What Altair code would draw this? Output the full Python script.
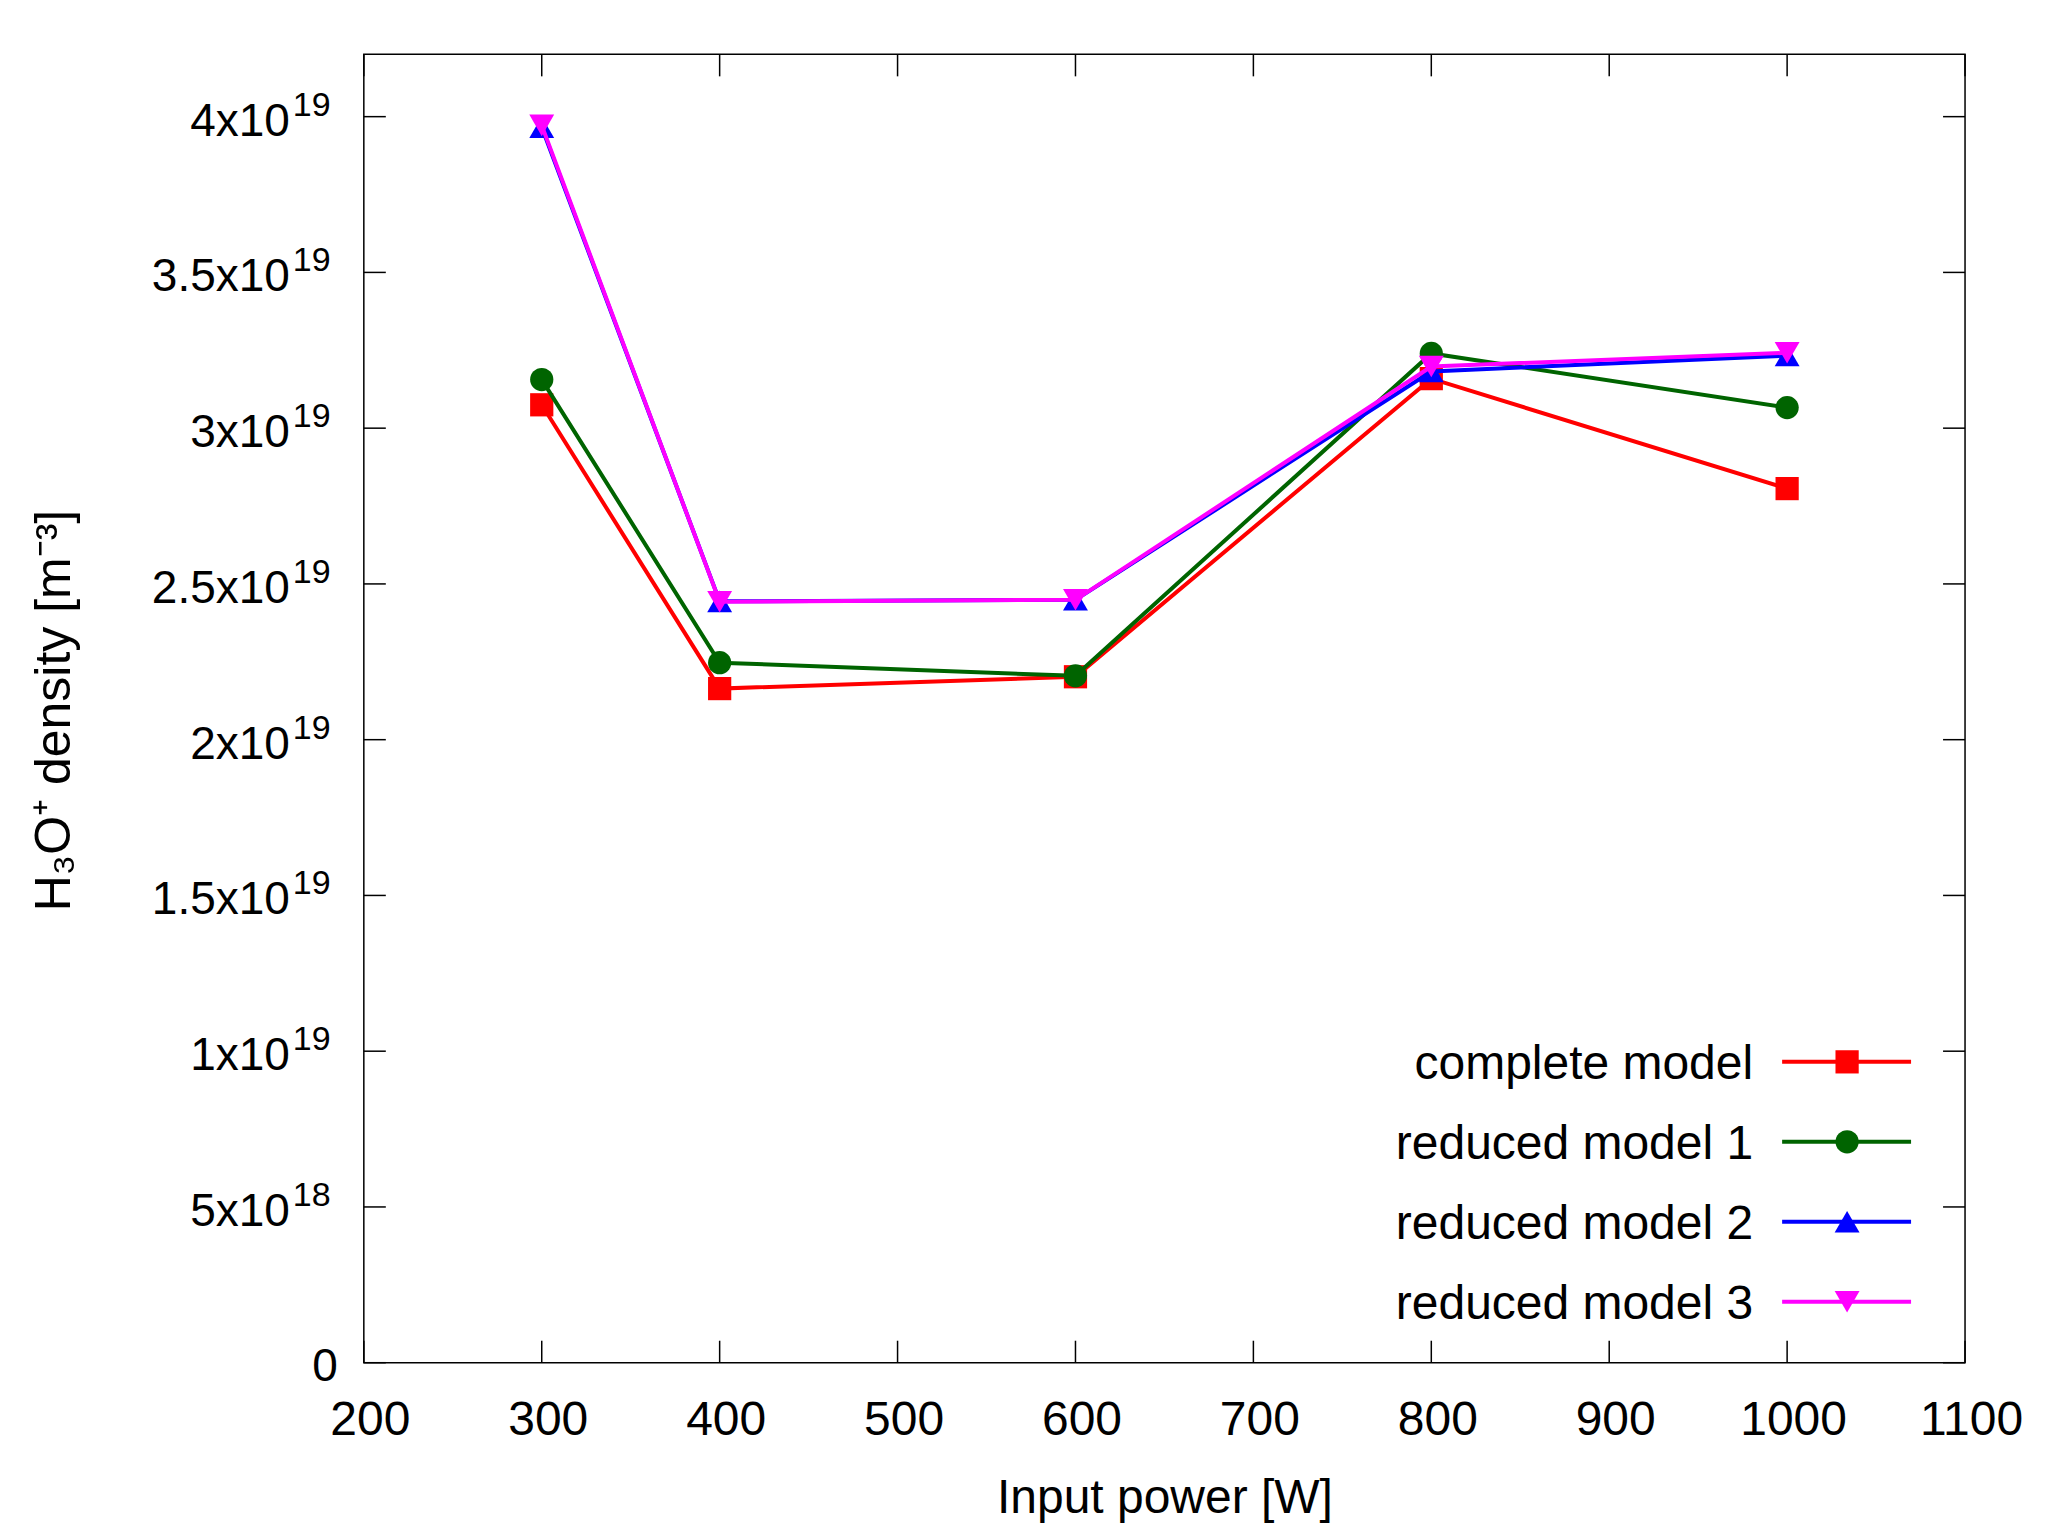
import altair as alt
import pandas as pd

# ---- data ----
power = [300, 400, 600, 800, 1000]
complete_model = [3.075e19, 2.164e19, 2.202e19, 3.159e19, 2.806e19]
reduced_model_1 = [3.156e19, 2.247e19, 2.205e19, 3.240e19, 3.066e19]
reduced_model_2 = [3.966e19, 2.444e19, 2.449e19, 3.182e19, 3.233e19]
reduced_model_3 = [3.972e19, 2.443e19, 2.449e19, 3.198e19, 3.242e19]

series_names = ["complete model", "reduced model 1", "reduced model 2", "reduced model 3"]
series_values = [complete_model, reduced_model_1, reduced_model_2, reduced_model_3]
series_colors = ["#ff0000", "#006400", "#0000ff", "#ff00ff"]
series_shapes = ["square", "circle", "triangle-up", "triangle-down"]

x_ticks = [200, 300, 400, 500, 600, 700, 800, 900, 1000, 1100]
y_ticks = [0, 5e18, 1e19, 1.5e19, 2e19, 2.5e19, 3e19, 3.5e19, 4e19]
y_mantissa = ["0", "5x10", "1x10", "1.5x10", "2x10", "2.5x10", "3x10", "3.5x10", "4x10"]
y_exponent = ["", "18", "19", "19", "19", "19", "19", "19", "19"]

x_title = "Input power [W]"
y_title = "H\u2083O\u207a density [m\u207b\u00b3]"

# ---- layout ----
W, H = 1602, 1309
FONT = "Liberation Sans"

rows = []
for name, vals in zip(series_names, series_values):
    for p, v in zip(power, vals):
        rows.append({"series": name, "power": p, "density": v})
df = pd.DataFrame(rows)

ytick_df = pd.DataFrame({"value": y_ticks, "mantissa": y_mantissa, "exponent": y_exponent})
xtick_df = pd.DataFrame({"tick": x_ticks})

x_scale = alt.Scale(domain=[200, 1100], nice=False, zero=False)
y_scale = alt.Scale(domain=[0, 4.2e19], nice=False, zero=False)

x_axis = alt.Axis(
    values=x_ticks, format="d", labelFontSize=48, labelFont=FONT, labelColor="black",
    labelPadding=34, labelOffset=6, labelFlush=False, labelOverlap=False,
    ticks=False, tickSize=0, domain=False, grid=False,
    title=x_title, titleFont=FONT, titleFontSize=48, titleFontWeight="normal",
    titleColor="black", titleX=W / 2, titleY=150, titleAlign="center",
    titleBaseline="alphabetic",
)
y_axis = alt.Axis(
    labels=False, ticks=False, tickSize=0, domain=False, grid=False,
    title=y_title, titleFont=FONT, titleFontSize=50, titleFontWeight="normal",
    titleColor="black", titleX=-294, titleY=656, titleAngle=270,
    titleAlign="center", titleBaseline="alphabetic",
)

def X(field):
    return alt.X(field, type="quantitative", scale=x_scale, axis=x_axis)

def Y(field):
    return alt.Y(field, type="quantitative", scale=y_scale, axis=y_axis)

layers = []

# data lines and points
for name, color, shape in zip(series_names, series_colors, series_shapes):
    base = alt.Chart(df).transform_filter(alt.datum.series == name)
    layers.append(base.mark_line(color=color, strokeWidth=4).encode(x=X("power"), y=Y("density")))
    size = 620 if shape.startswith("triangle") else 540
    layers.append(
        base.mark_point(shape=shape, filled=True, size=size, color=color, opacity=1)
        .encode(x=X("power"), y=Y("density"))
    )

# inward ticks on all four sides
yt = alt.Chart(ytick_df)
xt = alt.Chart(xtick_df)
layers.append(yt.mark_rule(color="black", strokeWidth=1.5).encode(y=Y("value"), x=alt.value(0), x2=alt.value(22)))
layers.append(yt.mark_rule(color="black", strokeWidth=1.5).encode(y=Y("value"), x=alt.value(W - 22), x2=alt.value(W)))
layers.append(xt.mark_rule(color="black", strokeWidth=1.5).encode(x=X("tick"), y=alt.value(H - 22), y2=alt.value(H)))
layers.append(xt.mark_rule(color="black", strokeWidth=1.5).encode(x=X("tick"), y=alt.value(0), y2=alt.value(22)))

# y tick labels with superscript exponents
layers.append(
    yt.transform_filter("datum.value > 0")
    .mark_text(align="right", baseline="alphabetic", dy=19, fontSize=46, font=FONT, color="black")
    .encode(y=Y("value"), x=alt.value(-74), text="mantissa:N")
)
layers.append(
    yt.transform_filter("datum.value > 0")
    .mark_text(align="left", baseline="alphabetic", dy=-1, fontSize=34, font=FONT, color="black")
    .encode(y=Y("value"), x=alt.value(-71), text="exponent:N")
)
layers.append(
    yt.transform_filter("datum.value == 0")
    .mark_text(align="right", baseline="alphabetic", dy=18, fontSize=46, font=FONT, color="black")
    .encode(y=Y("value"), x=alt.value(-26), text="mantissa:N")
)

# legend inside bottom-right: label, then line sample with marker
legend_rows = [1008, 1088, 1168, 1248]
for name, color, shape, ry in zip(series_names, series_colors, series_shapes, legend_rows):
    one = alt.Chart(alt.Data(values=[{"label": name}]))
    layers.append(
        one.mark_text(align="right", baseline="alphabetic", dy=17, fontSize=48, font=FONT, color="black")
        .encode(x=alt.value(1390), y=alt.value(ry), text="label:N")
    )
    layers.append(
        one.mark_rule(color=color, strokeWidth=4)
        .encode(x=alt.value(1419), x2=alt.value(1548), y=alt.value(ry))
    )
    size = 620 if shape.startswith("triangle") else 540
    layers.append(
        one.mark_point(shape=shape, filled=True, size=size, color=color, opacity=1)
        .encode(x=alt.value(1484), y=alt.value(ry))
    )

chart = (
    alt.layer(*layers)
    .properties(
        width=W, height=H,
        autosize=alt.AutoSizeParams(type="none"),
        padding={"left": 356, "top": 46, "right": 75, "bottom": 166},
        background="white",
    )
    .configure_view(stroke="black", strokeWidth=1.5)
)

chart.save("out.html", embed_options={"renderer": "svg", "actions": False})
